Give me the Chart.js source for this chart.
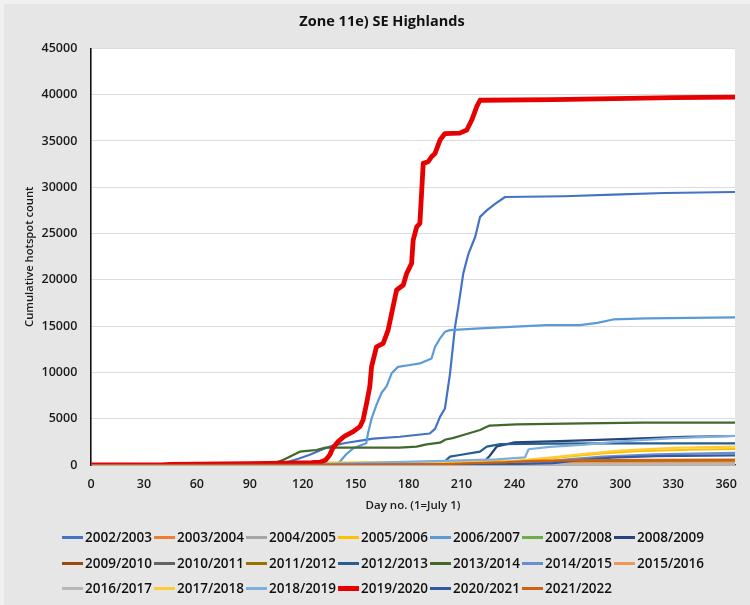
<!DOCTYPE html>
<html>
<head>
<meta charset="utf-8">
<title>Zone 11e) SE Highlands</title>
<script src="https://cdn.jsdelivr.net/npm/chart.js@4.4.1/dist/chart.umd.min.js"></script>
<style>
  html, body { margin: 0; padding: 0; background: #e7e6e6; }
  #wrap { position: relative; width: 750px; height: 605px; overflow: hidden; }
  #chart { position: absolute; left: 0; top: 0; }
  #legend { position: absolute; left: 0; top: 0; width: 750px; height: 605px; pointer-events: none;
            font-family: 'Open Sans', sans-serif; font-size: 13.5px; font-weight: 600; color: #111111; }
  .item { position: absolute; height: 20px; display: flex; align-items: center; white-space: nowrap; }
  .swatch { display: inline-block; width: 21px; margin-right: 2px; }
</style>
</head>
<body>
<div id="wrap">
  <canvas id="chart" width="750" height="605"></canvas>
  <div id="legend"></div>
</div>
<script>
// Fire seasons (July to June)
const seasons = [
  '2002/2003', '2003/2004', '2004/2005', '2005/2006', '2006/2007', '2007/2008', '2008/2009',
  '2009/2010', '2010/2011', '2011/2012', '2012/2013', '2013/2014', '2014/2015', '2015/2016',
  '2016/2017', '2017/2018', '2018/2019', '2019/2020', '2020/2021', '2021/2022'
];

// Cumulative hotspot count per season, as [day number, count]
const s2002_03 = [[0,0],[60,20],[100,100],[110,250],[118,700],[124,1100],[130,1600],[137,2100],[145,2400],[152,2600],[160,2850],[175,3050],[192,3400],[195,3900],[197.8,5200],[200.6,6100],[203.5,9900],[206.3,14900],[208.2,17100],[211,20700],[213.9,22800],[217.7,24600],[220.5,26800],[224.3,27500],[229,28200],[234.7,28950],[268,29030],[296,29200],[325,29380],[365,29490]];
const s2003_04 = [[0,0],[90,20],[150,60],[200,120],[250,250],[280,330],[320,390],[365,420]];
const s2004_05 = [[0,0],[100,30],[180,80],[240,150],[290,220],[365,260]];
const s2005_06 = [[0,0],[100,50],[125,200],[180,250],[240,300],[255,600],[270,900],[290,1250],[310,1500],[340,1650],[365,1730]];
const s2006_07 = [[0,0],[90,30],[130,80],[140,200],[141,360],[144.8,1190],[148.6,1800],[156,2340],[157,3420],[159,5000],[161.8,6500],[164.7,7800],[167.5,8500],[170.4,9900],[174,10600],[180.8,10800],[186.4,10970],[193,11500],[195,12770],[197.8,13670],[200.6,14390],[203.5,14570],[220.5,14750],[258,15110],[277,15110],[287,15360],[296,15720],[315,15830],[365,15940]];
const s2007_08 = [[0,0],[120,30],[200,80],[260,150],[320,200],[365,220]];
const s2008_09 = [[0,0],[215,0],[222,200],[226,1000],[230,2000],[240,2450],[270,2600],[300,2800],[336,3050],[365,3130]];
const s2009_10 = [[0,0],[262,0],[270,100],[300,220],[365,300]];
const s2010_11 = [[0,0],[150,20],[250,80],[300,130],[365,160]];
const s2011_12 = [[0,0],[150,30],[230,100],[270,250],[300,380],[365,450]];
const s2012_13 = [[0,0],[198,0],[200,300],[203.5,900],[209,1080],[220.5,1440],[224.3,1980],[232,2250],[260,2300],[300,2330],[365,2340]];
const s2013_14 = [[0,0],[60,20],[95,150],[105,300],[108.8,540],[112.6,900],[118.3,1440],[124,1550],[127.7,1620],[132.5,1870],[141,1870],[175,1880],[184.5,1980],[190.2,2230],[197.8,2410],[201,2750],[205,2900],[211,3240],[220.5,3780],[224.3,4140],[226,4250],[241,4390],[279,4500],[313,4570],[365,4580]];
const s2014_15 = [[0,0],[120,40],[200,150],[255,300],[270,600],[290,900],[320,1150],[365,1300]];
const s2015_16 = [[0,0],[130,30],[220,100],[280,200],[365,250]];
const s2016_17 = [[0,0],[150,20],[250,60],[365,120]];
const s2017_18 = [[0,0],[110,100],[130,250],[200,300],[240,450],[260,800],[280,1200],[300,1550],[330,1850],[365,1980]];
const s2018_19 = [[0,0],[120,50],[150,200],[200,450],[230,600],[246,830],[248,1700],[260,1950],[280,2200],[300,2550],[330,2900],[365,3150]];
const s2019_20 = [[0,0],[40,0],[45,60],[60,100],[90,150],[110,200],[125,250],[129.8,300],[133,540],[135.3,1080],[137,1800],[140,2520],[143.8,3130],[148.6,3600],[152.4,4140],[154.2,4860],[156.2,6660],[158,8450],[159,10600],[161.8,12770],[165.6,13130],[168.4,14570],[173.2,18900],[177,19440],[178.9,20690],[181.7,21780],[182.6,24300],[184.6,25730],[186.4,26100],[188.3,32580],[191.1,32760],[193,33300],[195,33660],[197.8,35100],[200.6,35800],[209,35850],[213,36180],[215.8,37260],[218.6,38700],[220.5,39400],[262,39470],[296,39570],[330,39680],[365,39740]];
const s2020_21 = [[0,0],[150,20],[240,100],[262,200],[275,500],[295,800],[320,950],[365,1040]];
const s2021_22 = [[0,0],[120,20],[200,100],[235,300],[250,450],[280,520],[365,580]];

const seasonSeries = [
  s2002_03, s2003_04, s2004_05, s2005_06, s2006_07, s2007_08, s2008_09,
  s2009_10, s2010_11, s2011_12, s2012_13, s2013_14, s2014_15, s2015_16,
  s2016_17, s2017_18, s2018_19, s2019_20, s2020_21, s2021_22
];

// Axis ticks
const xTickValues = [0, 30, 60, 90, 120, 150, 180, 210, 240, 270, 300, 330, 360];
const yTickValues = [0, 5000, 10000, 15000, 20000, 25000, 30000, 35000, 40000, 45000];

// Line colours per season
const seasonColors = [
  '#4472c4', '#ed7d31', '#a5a5a5', '#ffc000', '#5b9bd5', '#70ad47', '#264478',
  '#9e480e', '#636363', '#997300', '#255e91', '#43682b', '#698ed0', '#f1975a',
  '#b7b7b7', '#ffcd33', '#7cafdd', '#e60000', '#335aa1', '#d26012'
];
const highlightSeason = '2019/2020';

const FONT = "'Open Sans', sans-serif";

const datasets = seasons.map((name, i) => ({
  label: name,
  data: seasonSeries[i].map(([d, v]) => ({ x: d, y: v })),
  borderColor: seasonColors[i],
  backgroundColor: seasonColors[i],
  borderWidth: name === highlightSeason ? 4.8 : 2.2,
  pointRadius: 0,
  tension: 0,
  fill: false,
  borderJoinStyle: 'round',
  borderCapStyle: 'round',
  order: seasons.length - i   // later seasons drawn over earlier ones
}));

// Grey chart background with a white plot area
const backdrop = {
  id: 'backdrop',
  beforeDraw(chart) {
    const { ctx, chartArea: a, width, height } = chart;
    ctx.save();
    ctx.fillStyle = '#e7e6e6';
    ctx.fillRect(0, 0, width, height);
    ctx.fillStyle = '#f1f0f0';
    ctx.fillRect(0, 0, width, 4);
    ctx.fillRect(0, 0, 4, height);
    ctx.fillStyle = '#ffffff';
    ctx.fillRect(a.left, a.top, a.right - a.left, a.bottom - a.top);
    ctx.restore();
  }
};

const chart = new Chart(document.getElementById('chart'), {
  type: 'line',
  data: { datasets },
  options: {
    responsive: false,
    animation: false,
    devicePixelRatio: 1,
    layout: { padding: { left: 29, right: 15, top: 0, bottom: 91.9 } },
    plugins: {
      legend: { display: false },
      tooltip: { enabled: false },
      title: {
        display: true,
        text: 'Zone 11e) SE Highlands',
        color: '#111111',
        font: { family: FONT, size: 14.5, weight: 'bold' },
        padding: { top: 13, bottom: 18 }
      }
    },
    scales: {
      x: {
        type: 'linear',
        min: 0,
        max: 365,
        afterBuildTicks(scale) { scale.ticks = xTickValues.map(v => ({ value: v })); },
        afterFit(scale) { scale.height = 48.1; },
        ticks: {
          padding: 12,
          color: '#1a1a1a',
          font: { family: FONT, size: 12.5, weight: '600' },
          callback: v => String(v)
        },
        grid: { display: false, drawTicks: false },
        border: { display: true, color: '#333333', width: 1.3 },
        title: {
          display: true,
          text: 'Day no. (1=July 1)',
          color: '#1a1a1a',
          font: { family: FONT, size: 11.5, weight: '600' },
          padding: { top: 0, bottom: 0 }
        }
      },
      y: {
        type: 'linear',
        min: 0,
        max: 45000,
        afterBuildTicks(scale) { scale.ticks = yTickValues.map(v => ({ value: v })); },
        afterFit(scale) { scale.width = 62; },
        ticks: {
          padding: 13.7,
          color: '#1a1a1a',
          font: { family: FONT, size: 12.5, weight: '600' },
          callback: v => String(v)
        },
        grid: { color: '#dcdcdc', lineWidth: 1, drawTicks: false },
        border: { display: true, color: '#111111', width: 1.6 },
        title: {
          display: true,
          text: 'Cumulative hotspot count',
          color: '#1a1a1a',
          font: { family: FONT, size: 11.2, weight: '600' },
          padding: { top: -5.7, bottom: 0 }
        }
      }
    }
  },
  plugins: [backdrop]
});

// Legend: three rows, seven entries per row, left-aligned rows
const legendEl = document.getElementById('legend');
const rowCenters = [537, 563, 588];
chart.data.datasets.forEach((ds, i) => {
  const row = Math.floor(i / 7), col = i % 7;
  const item = document.createElement('div');
  item.className = 'item';
  item.style.left = (62 + col * 92) + 'px';
  item.style.top = (rowCenters[row] - 10) + 'px';
  const sw = document.createElement('span');
  sw.className = 'swatch';
  sw.style.background = ds.borderColor;
  sw.style.height = (ds.label === highlightSeason ? 5 : 3) + 'px';
  const tx = document.createElement('span');
  tx.textContent = ds.label;
  item.appendChild(sw);
  item.appendChild(tx);
  legendEl.appendChild(item);
});
</script>
</body>
</html>
